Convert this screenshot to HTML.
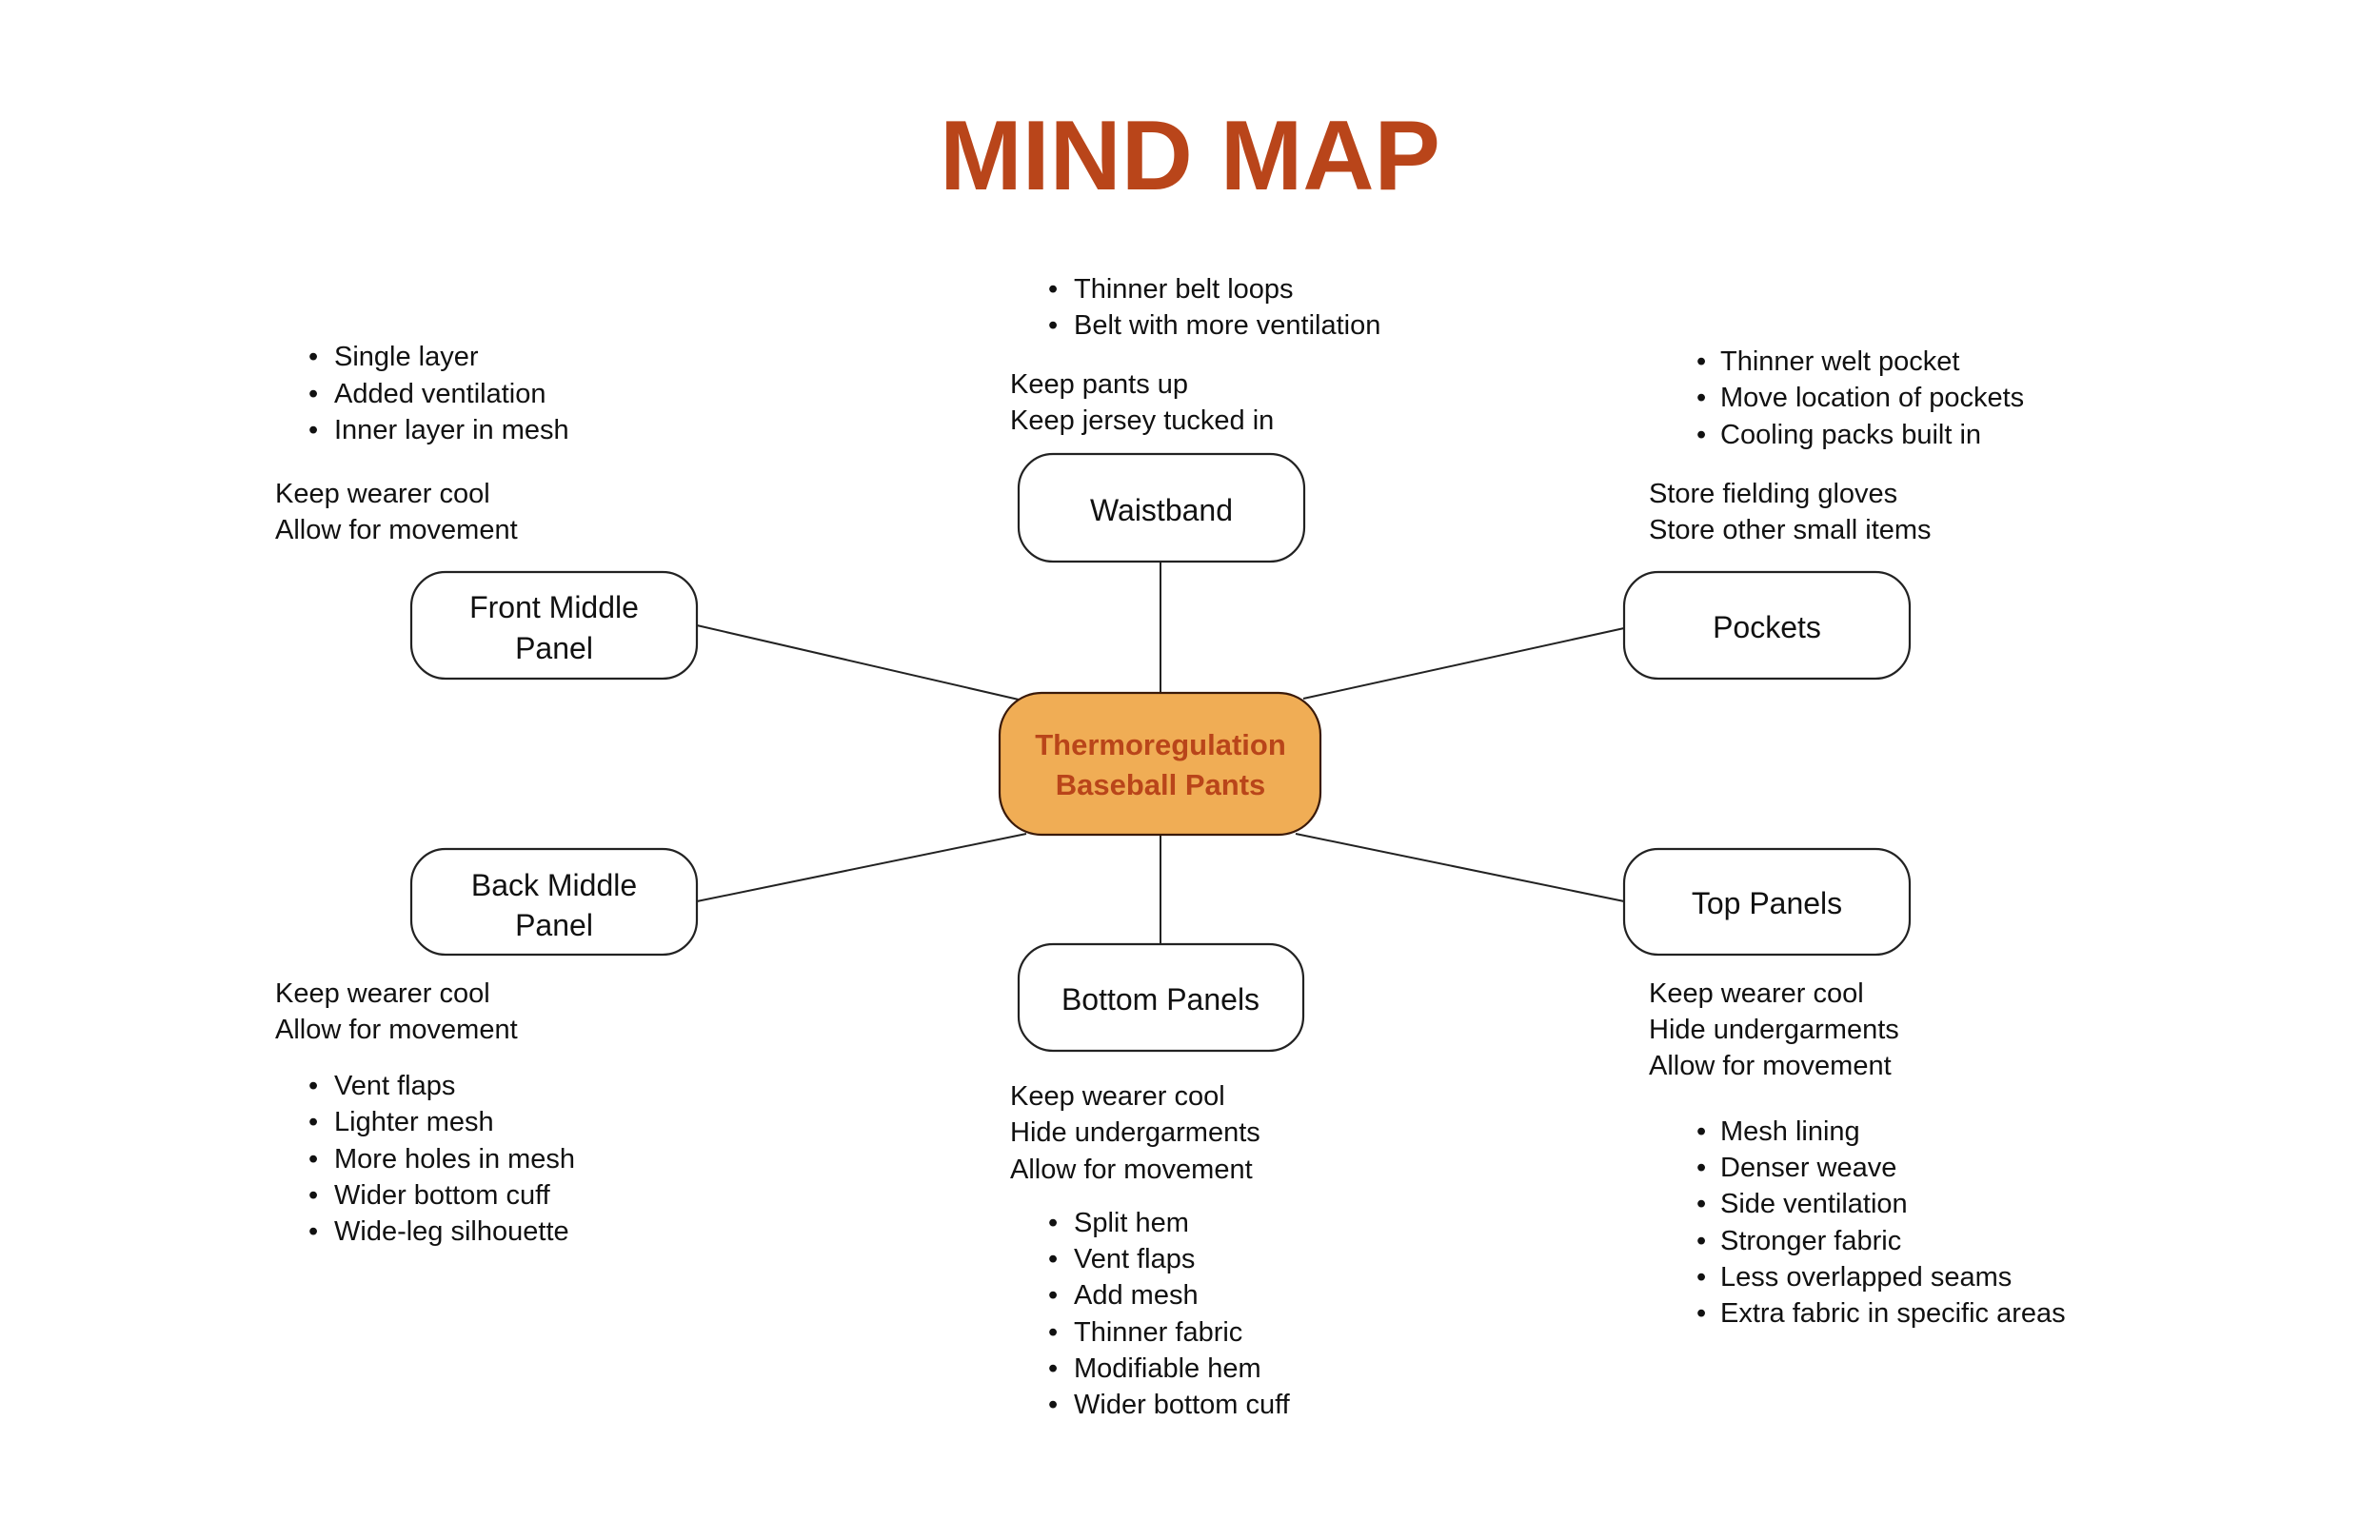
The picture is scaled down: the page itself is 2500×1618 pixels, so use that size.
<!DOCTYPE html>
<html><head><meta charset="utf-8"><style>
html,body{margin:0;padding:0;background:#fff;}
svg{display:block;}
text{font-family:"Liberation Sans",sans-serif;fill:#111;}
.t{font-size:29px;}
.n{font-size:32px;text-anchor:middle;}
</style></head><body>
<svg width="2500" height="1618" viewBox="0 0 2500 1618" xmlns="http://www.w3.org/2000/svg">
<rect width="2500" height="1618" fill="#fff"/>
<text x="1250" y="199" text-anchor="middle" style="font-size:104px;font-weight:bold;fill:#B9451A;">MIND MAP</text>
<g stroke="#222" stroke-width="2" fill="none">
<line x1="1219" y1="590" x2="1219" y2="728"/>
<line x1="1219" y1="877" x2="1219" y2="992"/>
<line x1="732" y1="657" x2="1070" y2="735"/>
<line x1="1706" y1="660" x2="1369" y2="734"/>
<line x1="732" y1="947" x2="1078" y2="876"/>
<line x1="1706" y1="947" x2="1361" y2="876"/>
</g>
<g stroke="#222" stroke-width="2.2" fill="#fff">
<rect x="1070" y="477" width="300" height="113" rx="36"/>
<rect x="432" y="601" width="300" height="112" rx="36"/>
<rect x="1706" y="601" width="300" height="112" rx="36"/>
<rect x="432" y="892" width="300" height="111" rx="36"/>
<rect x="1706" y="892" width="300" height="111" rx="36"/>
<rect x="1070" y="992" width="299" height="112" rx="36"/>
</g>
<rect x="1050" y="728" width="337" height="149" rx="44" fill="#F0AD55" stroke="#3a1a0a" stroke-width="2.2"/>
<text x="1219" y="793" text-anchor="middle" style="font-size:31px;font-weight:bold;fill:#B9451A;">Thermoregulation</text>
<text x="1219" y="835" text-anchor="middle" style="font-size:31px;font-weight:bold;fill:#B9451A;">Baseball Pants</text>
<text class="n" x="1220" y="547">Waistband</text>
<text class="n" x="582" y="649">Front Middle</text>
<text class="n" x="582" y="692">Panel</text>
<text class="n" x="1856" y="670">Pockets</text>
<text class="n" x="582" y="941">Back Middle</text>
<text class="n" x="582" y="983">Panel</text>
<text class="n" x="1856" y="960">Top Panels</text>
<text class="n" x="1219" y="1061">Bottom Panels</text>

<g class="t">
<!-- waistband -->
<text class="t" x="1101" y="313">•</text><text class="t" x="1128" y="313">Thinner belt loops</text>
<text class="t" x="1101" y="351">•</text><text class="t" x="1128" y="351">Belt with more ventilation</text>
<text class="t" x="1061" y="413">Keep pants up</text>
<text class="t" x="1061" y="451">Keep jersey tucked in</text>
<!-- front middle -->
<text class="t" x="324" y="384">•</text><text class="t" x="351" y="384">Single layer</text>
<text class="t" x="324" y="423">•</text><text class="t" x="351" y="423">Added ventilation</text>
<text class="t" x="324" y="461">•</text><text class="t" x="351" y="461">Inner layer in mesh</text>
<text class="t" x="289" y="528">Keep wearer cool</text>
<text class="t" x="289" y="566">Allow for movement</text>
<!-- pockets -->
<text class="t" x="1782" y="389">•</text><text class="t" x="1807" y="389">Thinner welt pocket</text>
<text class="t" x="1782" y="427">•</text><text class="t" x="1807" y="427">Move location of pockets</text>
<text class="t" x="1782" y="466">•</text><text class="t" x="1807" y="466">Cooling packs built in</text>
<text class="t" x="1732" y="528">Store fielding gloves</text>
<text class="t" x="1732" y="566">Store other small items</text>
<!-- back middle -->
<text class="t" x="289" y="1053">Keep wearer cool</text>
<text class="t" x="289" y="1091">Allow for movement</text>
<text class="t" x="324" y="1150">•</text><text class="t" x="351" y="1150">Vent flaps</text>
<text class="t" x="324" y="1188">•</text><text class="t" x="351" y="1188">Lighter mesh</text>
<text class="t" x="324" y="1227">•</text><text class="t" x="351" y="1227">More holes in mesh</text>
<text class="t" x="324" y="1265">•</text><text class="t" x="351" y="1265">Wider bottom cuff</text>
<text class="t" x="324" y="1303">•</text><text class="t" x="351" y="1303">Wide-leg silhouette</text>
<!-- bottom -->
<text class="t" x="1061" y="1161">Keep wearer cool</text>
<text class="t" x="1061" y="1199">Hide undergarments</text>
<text class="t" x="1061" y="1238">Allow for movement</text>
<text class="t" x="1101" y="1294">•</text><text class="t" x="1128" y="1294">Split hem</text>
<text class="t" x="1101" y="1332">•</text><text class="t" x="1128" y="1332">Vent flaps</text>
<text class="t" x="1101" y="1370">•</text><text class="t" x="1128" y="1370">Add mesh</text>
<text class="t" x="1101" y="1409">•</text><text class="t" x="1128" y="1409">Thinner fabric</text>
<text class="t" x="1101" y="1447">•</text><text class="t" x="1128" y="1447">Modifiable hem</text>
<text class="t" x="1101" y="1485">•</text><text class="t" x="1128" y="1485">Wider bottom cuff</text>
<!-- top panels -->
<text class="t" x="1732" y="1053">Keep wearer cool</text>
<text class="t" x="1732" y="1091">Hide undergarments</text>
<text class="t" x="1732" y="1129">Allow for movement</text>
<text class="t" x="1782" y="1198">•</text><text class="t" x="1807" y="1198">Mesh lining</text>
<text class="t" x="1782" y="1236">•</text><text class="t" x="1807" y="1236">Denser weave</text>
<text class="t" x="1782" y="1274">•</text><text class="t" x="1807" y="1274">Side ventilation</text>
<text class="t" x="1782" y="1313">•</text><text class="t" x="1807" y="1313">Stronger fabric</text>
<text class="t" x="1782" y="1351">•</text><text class="t" x="1807" y="1351">Less overlapped seams</text>
<text class="t" x="1782" y="1389">•</text><text class="t" x="1807" y="1389">Extra fabric in specific areas</text>
</g>
</svg>
</body></html>
